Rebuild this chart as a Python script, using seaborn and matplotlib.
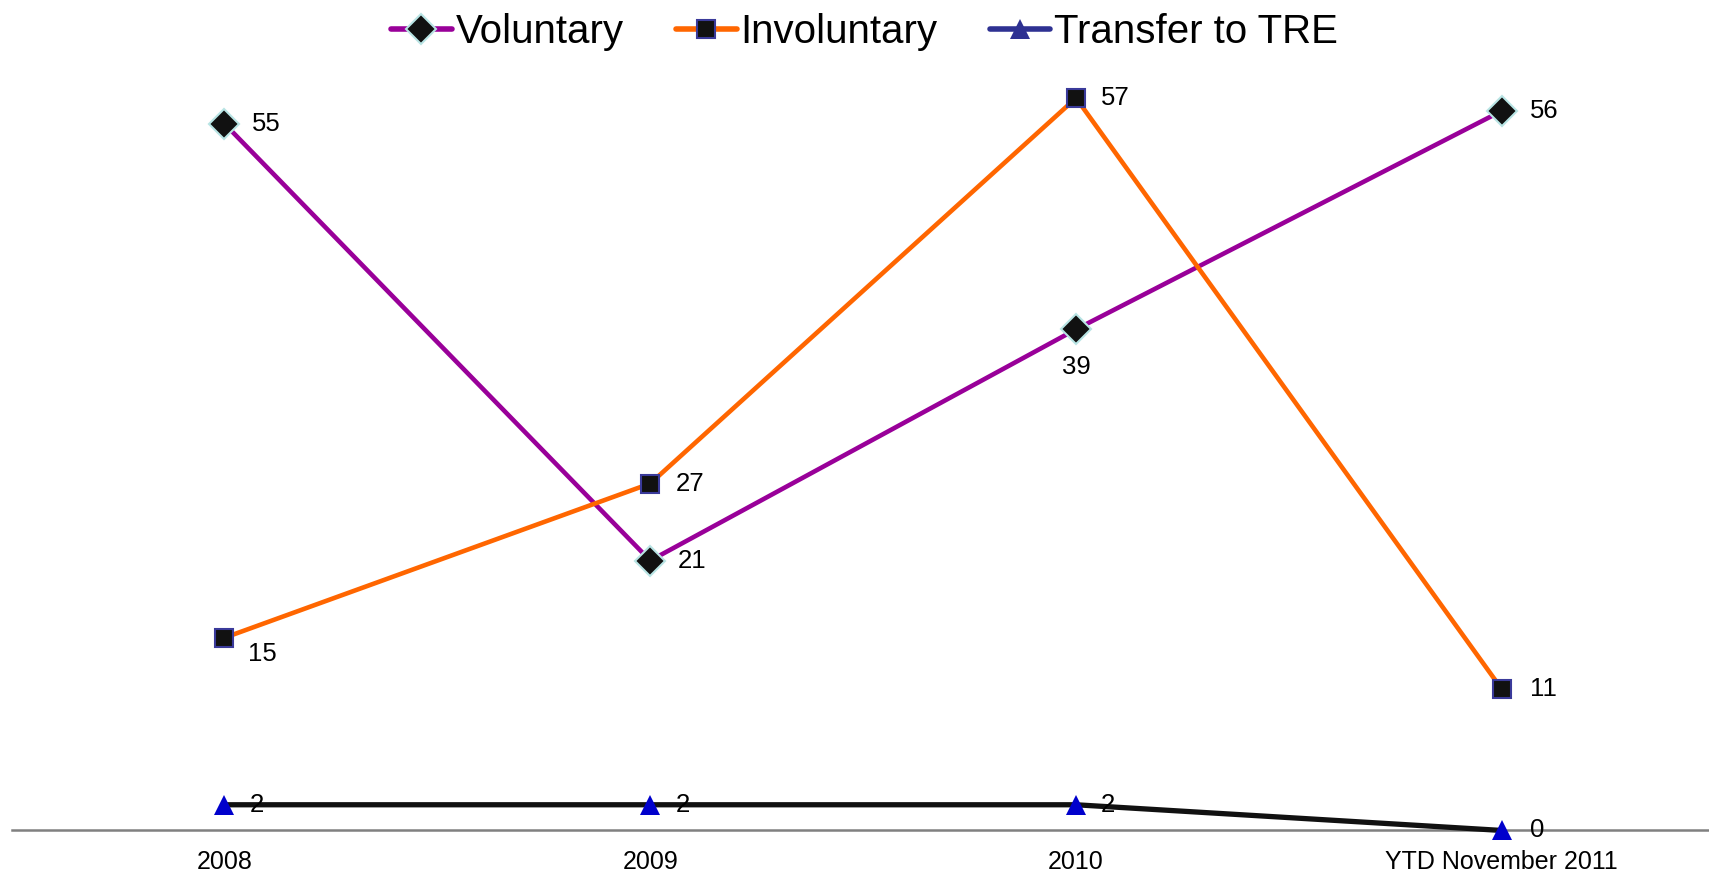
import matplotlib
matplotlib.use("Agg")
import matplotlib.pyplot as plt
from matplotlib.lines import Line2D
import seaborn as sns
import pandas as pd

categories = ["2008", "2009", "2010", "YTD November 2011"]
voluntary = [55, 21, 39, 56]
involuntary = [15, 27, 57, 11]
transfer = [2, 2, 2, 0]

sns.set_theme(style="white")
plt.rcParams["font.family"] = ["Liberation Sans", "DejaVu Sans"]
plt.rcParams["text.color"] = "black"
plt.rcParams["xtick.color"] = "black"

fig = plt.figure(figsize=(17.09, 8.75), dpi=100)
ax = fig.add_axes([0.0068, 0.0509, 0.9965, 0.8811])

pos = list(range(len(categories)))
df = pd.DataFrame({"pos": pos, "Voluntary": voluntary,
                   "Involuntary": involuntary, "Transfer to TRE": transfer})

styles = {
    "Voluntary": dict(color="#990099", marker="D", ms=15, mfc="#111111",
                      mec="#b8e4e4", mew=1.5, lw=3.3),
    "Involuntary": dict(color="#ff6600", marker="s", ms=13, mfc="#111111",
                        mec="#3a3a9a", mew=1.5, lw=3.3),
    "Transfer to TRE": dict(color="#111111", marker="^", ms=15, mfc="#0000cc",
                            mec="#0000cc", mew=0, lw=3.8),
}

for name, st in styles.items():
    sns.lineplot(data=df, x="pos", y=name, ax=ax, color=st["color"],
                 linewidth=st["lw"], marker=st["marker"], markersize=st["ms"],
                 markerfacecolor=st["mfc"], markeredgecolor=st["mec"],
                 markeredgewidth=st["mew"], legend=False, clip_on=False, zorder=3)

# value labels: (dx, dy) in points
offsets = {
    "Voluntary": [(20, 0), (20, 0), (0, -27), (20, 0)],
    "Involuntary": [(17, -12), (18, 0), (18, 0), (20, 0)],
    "Transfer to TRE": [(18, 0), (18, 0), (18, 0), (20, 0)],
}
for name, vals in (("Voluntary", voluntary), ("Involuntary", involuntary),
                   ("Transfer to TRE", transfer)):
    for i, v in enumerate(vals):
        dx, dy = offsets[name][i]
        ha = "left" if dx != 0 else "center"
        ax.annotate(str(v), (i, v), xytext=(dx, dy), textcoords="offset points",
                    ha=ha, va="center", fontsize=18.5, color="black", zorder=5)

ax.set_xlim(-0.5, 3.5)
ax.set_ylim(0, 60)
ax.set_xticks(pos)
ax.set_xticklabels(categories, fontsize=18, color="black")
ax.set_yticks([])
ax.set_xlabel("")
ax.set_ylabel("")
ax.tick_params(axis="x", length=0, pad=14)
for side in ("top", "right", "left"):
    ax.spines[side].set_visible(False)
ax.spines["bottom"].set_color("#808080")
ax.spines["bottom"].set_linewidth(1.8)
ax.spines["bottom"].set_zorder(1)

handles = [
    Line2D([], [], color="#990099", lw=4, marker="D", ms=15, mfc="#111111",
           mec="#b8e4e4", mew=1.5),
    Line2D([], [], color="#ff6600", lw=4, marker="s", ms=13, mfc="#111111",
           mec="#3a3a9a", mew=1.5),
    Line2D([], [], color="#2e3192", lw=4, marker="^", ms=15, mfc="#2e3192",
           mec="#2e3192", mew=0),
]
leg = fig.legend(handles, ["Voluntary", "Involuntary", "Transfer to TRE"],
                 loc="center", bbox_to_anchor=(0.506, 0.963), ncol=3,
                 frameon=False, fontsize=29, handlelength=1.5,
                 handletextpad=0.1, columnspacing=1.3)
for t in leg.get_texts():
    t.set_color("black")

fig.savefig("out.png", dpi=100)
